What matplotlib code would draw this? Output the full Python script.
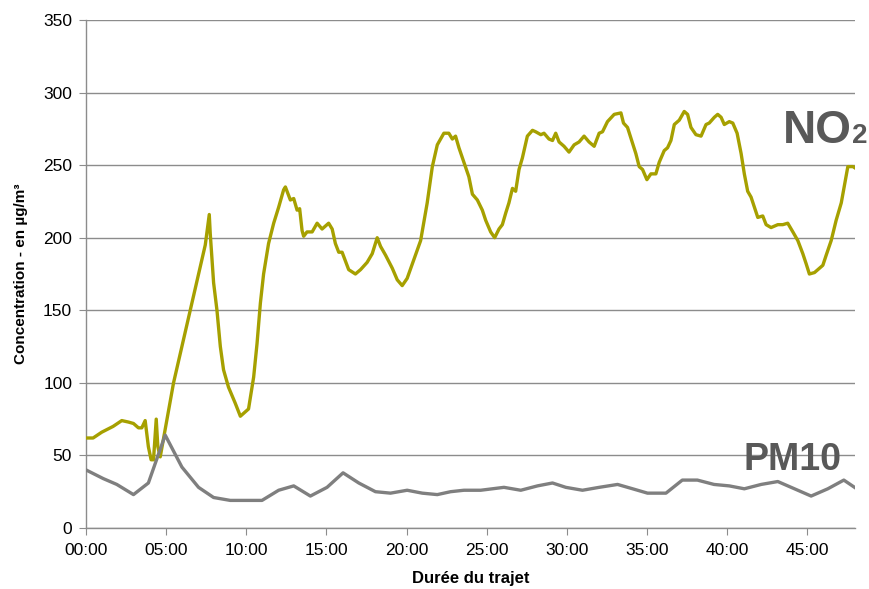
import matplotlib
matplotlib.use("Agg")
import matplotlib.pyplot as plt
from matplotlib.ticker import FuncFormatter, MultipleLocator

# time in minutes since start of the trip
no2_t = [0.0, 0.44, 0.98, 1.69, 2.23, 2.64, 2.96, 3.27, 3.48, 3.69, 3.89, 4.06, 4.21,
         4.38, 4.48, 4.63, 5.46, 6.5, 7.44, 7.69, 7.75, 7.96, 8.17, 8.38, 8.58, 8.89,
         9.31, 9.63, 9.94, 10.14, 10.46, 10.67, 10.88, 11.08, 11.39, 11.71, 12.02,
         12.33, 12.44, 12.75, 12.96, 13.17, 13.33, 13.48, 13.58, 13.79, 14.11, 14.42,
         14.73, 15.14, 15.36, 15.56, 15.77, 15.98, 16.39, 16.81, 17.13, 17.54, 17.86,
         18.17, 18.38, 18.69, 19.11, 19.42, 19.73, 20.04, 20.46, 20.88, 21.29, 21.61,
         21.92, 22.33, 22.64, 22.86, 23.06, 23.27, 23.58, 23.89, 24.11, 24.42, 24.73,
         24.94, 25.25, 25.5, 25.77, 25.98, 26.19, 26.39, 26.61, 26.81, 27.02, 27.23,
         27.54, 27.86, 28.06, 28.38, 28.58, 28.89, 29.11, 29.31, 29.52, 29.83, 30.14,
         30.46, 30.77, 31.08, 31.39, 31.71, 32.02, 32.23, 32.54, 32.96, 33.38, 33.54,
         33.79, 34.11, 34.31, 34.52, 34.73, 35.0, 35.25, 35.56, 35.77, 36.08, 36.29,
         36.5, 36.71, 37.02, 37.33, 37.54, 37.75, 38.06, 38.38, 38.69, 38.89, 39.21,
         39.42, 39.63, 39.83, 40.14, 40.36, 40.63, 40.88, 41.08, 41.29, 41.5, 41.71,
         41.92, 42.23, 42.44, 42.75, 42.96, 43.17, 43.48, 43.79, 44.11, 44.42, 44.73,
         44.94, 45.14, 45.46, 45.67, 45.98, 46.19, 46.5, 46.81, 47.13, 47.54, 47.86,
         48.0]
no2_v = [62, 62, 66, 70, 74, 73, 72, 69, 69, 74, 56, 47, 47,
         75, 56, 49, 100, 150, 195, 216, 203, 169, 150, 125, 109, 97,
         86, 77, 80, 82, 104, 127, 155, 175, 196, 210, 221,
         233, 235, 226, 227, 219, 220, 205, 201, 204, 204, 210,
         206, 210, 206, 196, 190, 190, 178, 175, 178, 183, 189,
         200, 194, 188, 179, 171, 167, 172, 185, 198, 224, 249,
         264, 272, 272, 268, 270, 262, 252, 242, 230, 226, 219,
         212, 204, 200, 206, 209, 217, 224, 234, 232, 247, 255,
         270, 274, 273, 271, 272, 268, 267, 272, 266, 263, 259,
         264, 266, 270, 266, 263, 272, 273, 280, 285, 286, 279,
         276, 265, 258, 249, 247, 240, 244, 244, 252, 260, 262,
         267, 278, 281, 287, 285, 276, 271, 270, 278, 279, 283,
         285, 283, 278, 280, 279, 272, 258, 244, 232, 228, 221,
         214, 215, 209, 207, 208, 209, 209, 210, 204, 198, 189,
         182, 175, 176, 178, 181, 188, 198, 212, 224, 249, 249,
         248]

pm10_t = [0.0, 1.08, 1.92, 2.96, 3.89, 4.94, 5.98, 7.02, 7.96, 9.0, 10.98, 12.02,
          12.96, 14.0, 15.04, 16.04, 17.02, 18.06, 19.0, 20.04, 20.98, 21.92, 22.75,
          23.58, 24.63, 26.08, 27.13, 28.17, 29.11, 29.94, 30.98, 32.02, 33.17, 34.11,
          35.04, 36.19, 37.21, 38.15, 39.19, 40.14, 41.08, 42.13, 43.17, 44.21, 45.25,
          46.29, 47.29, 47.96]
pm10_v = [40, 34, 30, 23, 31, 64, 42, 28, 21, 19, 19, 26,
          29, 22, 28, 38, 31, 25, 24, 26, 24, 23, 25,
          26, 26, 28, 26, 29, 31, 28, 26, 28, 30, 27,
          24, 24, 33, 33, 30, 29, 27, 30, 32, 27, 22,
          27, 33, 28]

plt.rcParams['font.family'] = ['Liberation Sans', 'DejaVu Sans']

fig = plt.figure(figsize=(8.7, 5.89), dpi=100)
ax = fig.add_axes([0.0989, 0.1036, 0.8841, 0.8624])

ax.plot(no2_t, no2_v, color='#a6a000', lw=2.4, solid_joinstyle='round', zorder=3)
ax.plot(pm10_t, pm10_v, color='#7f7f7f', lw=2.4, solid_joinstyle='round', zorder=3)

ax.set_xlim(0, 48)
ax.set_ylim(0, 350)
ax.xaxis.set_major_locator(MultipleLocator(5))
ax.yaxis.set_major_locator(MultipleLocator(50))
ax.xaxis.set_major_formatter(FuncFormatter(lambda m, p: "%02d:00" % int(round(m))))

ax.grid(axis='y', color='#8c8c8c', lw=1)
ax.set_axisbelow(True)
for s in ['top', 'right']:
    ax.spines[s].set_visible(False)
for s in ['left', 'bottom']:
    ax.spines[s].set_color('#8c8c8c')
    ax.spines[s].set_linewidth(1)
ax.tick_params(axis='both', colors='#8c8c8c', labelcolor='black', labelsize=12.5, length=5)
ax.tick_params(axis='x', pad=6)
ax.tick_params(axis='y', pad=5)

ax.set_xlabel('Durée du trajet', fontsize=12, fontweight='bold', labelpad=9)
ax.set_ylabel('Concentration - en µg/m³', fontsize=11, fontweight='bold', labelpad=11)

big = dict(family=['Liberation Sans', 'DejaVu Sans'],
           fontweight='bold', color='#595959', zorder=4)
fig.text(783 / 870, 1 - 143 / 589, 'NO', fontsize=33, ha='left', va='baseline', **big)
fig.text(852 / 870, 1 - 143 / 589, '2', fontsize=20, ha='left', va='baseline', **big)
fig.text(744 / 870, 1 - 470 / 589, 'PM10', fontsize=27, ha='left', va='baseline', **big)

fig.savefig('out.png', dpi=100)
